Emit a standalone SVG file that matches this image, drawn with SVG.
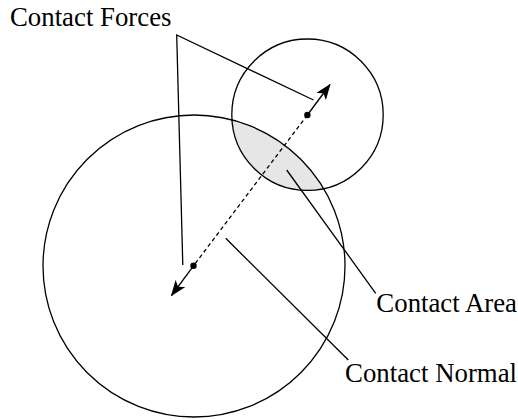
<svg xmlns="http://www.w3.org/2000/svg" width="518" height="420" viewBox="0 0 518 420">
<style>
.ln{fill:none;stroke:#000;stroke-width:1.3}
.txt{font-family:"Liberation Serif","Times New Roman",serif;font-size:26.8px;fill:#000}
</style>
<defs>
<marker id="ah" markerUnits="userSpaceOnUse" viewBox="0 0 16 12" markerWidth="16" markerHeight="12" refX="15" refY="6" orient="auto">
<path d="M0,0 L16,6 L0,12 L4,6 Z" fill="#000"/>
</marker>
</defs>
<rect width="518" height="420" fill="#fff"/>
<g id="contact-area-region">
<path d="M232,119.8 A151,151 0 0 1 323.6,188.6 A75.7,75.7 0 0 1 232,119.8 Z" fill="#e6e6e6"/>
</g>
<g id="big-particle">
<circle class="ln" cx="194" cy="266" r="151"/>
<circle cx="193.5" cy="265.8" r="3.2" fill="#000"/>
</g>
<g id="small-particle">
<circle class="ln" cx="307.5" cy="114.7" r="75.7"/>
<circle cx="307.4" cy="115" r="3.2" fill="#000"/>
</g>
<g id="connectors">
<line class="ln" x1="307.4" y1="115" x2="193.5" y2="265.8" stroke-dasharray="4,3"/>
<line class="ln" x1="307.4" y1="115" x2="330" y2="84.5" marker-end="url(#ah)"/>
<line class="ln" x1="193.5" y1="265.8" x2="171.5" y2="295.5" marker-end="url(#ah)"/>
<polyline class="ln" points="313.5,100 176.7,35 182.8,265"/>
<line class="ln" x1="286.7" y1="170" x2="375.7" y2="293.3"/>
<line class="ln" x1="225.7" y1="238.3" x2="348.3" y2="360"/>
</g>
<g id="labels">
<text class="txt" x="10" y="26">Contact Forces</text>
<text class="txt" x="517" y="311.7" text-anchor="end">Contact Area</text>
<text class="txt" x="517" y="381.7" text-anchor="end">Contact Normal</text>
</g>
</svg>
